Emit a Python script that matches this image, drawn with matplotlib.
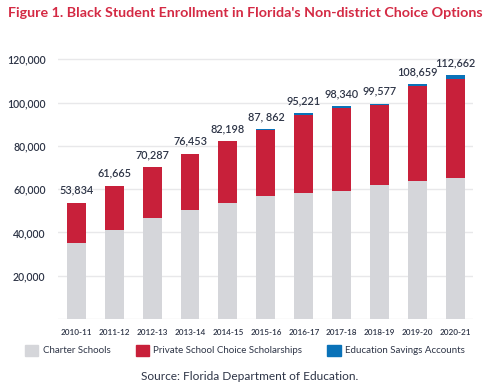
import matplotlib
matplotlib.use("Agg")
import matplotlib.pyplot as plt
from matplotlib.patches import Patch

years = ["2010-11", "2011-12", "2012-13", "2013-14", "2014-15", "2015-16",
         "2016-17", "2017-18", "2018-19", "2019-20", "2020-21"]
totals = [53834, 61665, 70287, 76453, 82198, 87862, 95221, 98340, 99577, 108659, 112662]
total_labels = ["53,834", "61,665", "70,287", "76,453", "82,198", "87, 862",
                "95,221", "98,340", "99,577", "108,659", "112,662"]
charter = [35200, 41100, 46600, 50200, 53700, 56800, 58200, 59100, 62000, 63900, 65300]
esa = [0, 0, 0, 0, 0, 300, 900, 700, 800, 1200, 1700]
private = [t - c - e for t, c, e in zip(totals, charter, esa)]

C_GRAY = "#D5D6DA"
C_RED = "#C8203A"
C_BLUE = "#0A72B8"
C_TEXT = "#2E3547"
C_TITLE = "#D42A44"

plt.rcParams["font.family"] = ["Lato", "DejaVu Sans"]

fig = plt.figure(figsize=(5.0, 3.89), dpi=100)
ax = fig.add_axes([0.116, 0.180, 0.830, 0.673])

x = list(range(len(years)))
w = 0.5
ax.bar(x, charter, width=w, color=C_GRAY, zorder=3)
ax.bar(x, private, width=w, bottom=charter, color=C_RED, zorder=3)
bott2 = [c + p for c, p in zip(charter, private)]
ax.bar(x, esa, width=w, bottom=bott2, color=C_BLUE, zorder=3)

for xi, t, lab in zip(x, totals, total_labels):
    ax.annotate(lab, (xi, t), xytext=(0, 5), textcoords="offset points",
                ha="center", va="bottom", fontsize=7.8, color=C_TEXT, fontweight="semibold")

ax.set_xlim(-0.48, 10.46)
ax.set_ylim(0, 121000)
ax.set_yticks([0, 20000, 40000, 60000, 80000, 100000, 120000])
ax.set_yticklabels(["", "20,000", "40,000", "60,000", "80,000", "100,000", "120,000"])
ax.set_xticks(x)
ax.set_xticklabels(years)
ax.tick_params(axis="y", length=0, pad=9, labelsize=7.6, labelcolor=C_TEXT)
ax.tick_params(axis="x", length=0, pad=7, labelsize=5.9, labelcolor=C_TEXT)
for lbl in ax.get_yticklabels() + ax.get_xticklabels():
    lbl.set_fontweight("semibold")
ax.grid(axis="y", color="#E8E8EA", linewidth=1, zorder=0)
for s in ax.spines.values():
    s.set_visible(False)

fig.text(0.016, 0.967, "Figure 1. Black Student Enrollment in Florida's Non-district Choice Options",
         fontsize=10.25, fontweight="bold", color=C_TITLE, ha="left", va="center")

handles = [Patch(color=C_GRAY), Patch(color=C_RED), Patch(color=C_BLUE)]
labels = ["Charter Schools", "Private School Choice Scholarships", "Education Savings Accounts"]
fig.legend(handles, labels, loc="center", bbox_to_anchor=(0.49, 0.10), ncol=3,
           frameon=False, fontsize=7, handlelength=1.35, handleheight=1.35,
           handletextpad=0.45, columnspacing=2.6, labelcolor=C_TEXT)

fig.text(0.5, 0.032, "Source: Florida Department of Education.", fontsize=8.6,
         color=C_TEXT, ha="center", va="center")

fig.savefig("out.png", dpi=100, facecolor="white")
